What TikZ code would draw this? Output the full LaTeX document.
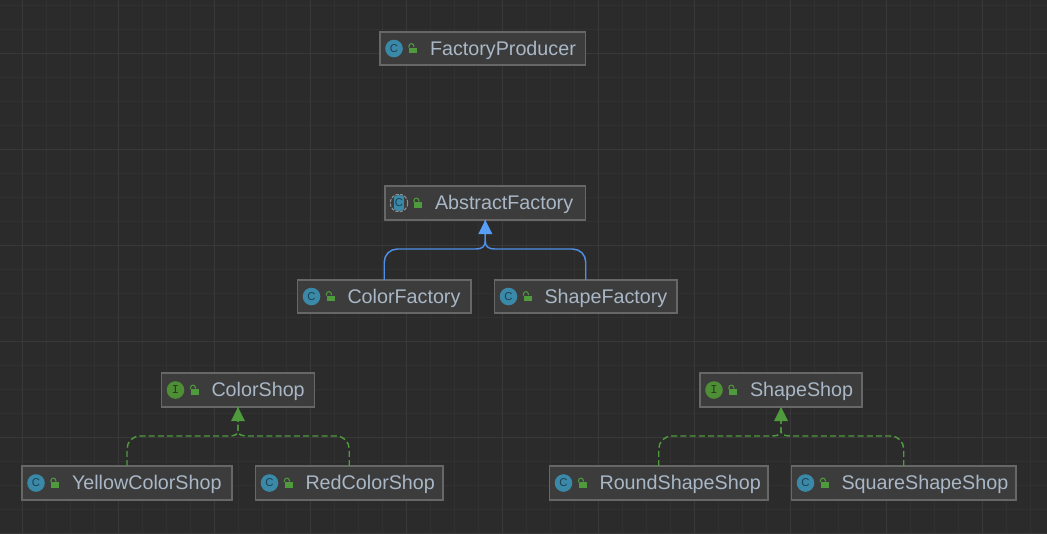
\documentclass[tikz,border=0pt]{standalone}
\usepackage{fontspec}
\setmainfont{Liberation Sans}
\newfontfamily\iconmono{Liberation Mono}
\usetikzlibrary{arrows.meta,calc}
\definecolor{bgc}{HTML}{2B2B2B}
\definecolor{gridminor}{HTML}{313131}
\definecolor{gridmajor}{HTML}{393939}
\definecolor{boxfill}{HTML}{3C3C3C}
\definecolor{boxline}{HTML}{676767}
\definecolor{labelc}{HTML}{A9B7C6}
\definecolor{teal}{HTML}{3A89A8}
\definecolor{tealdark}{HTML}{1E3F50}
\definecolor{ringgrey}{HTML}{8E8E8E}
\definecolor{ifgreen}{HTML}{4E8F35}
\definecolor{ifdark}{HTML}{263A1E}
\definecolor{lockgreen}{HTML}{4F9A3C}
\definecolor{extblue}{HTML}{4F8FE6}
\definecolor{headblue}{HTML}{589DF6}
\definecolor{impgreen}{HTML}{4F9A3C}
\tikzset{
  umlbox/.style={draw=boxline,fill=boxfill,line width=1pt,inner sep=0pt,outer sep=0pt,
    font=\fontsize{14.8pt}{16pt}\selectfont,text=labelc,align=left,text height=12.8pt,text depth=3pt},
  iconc/.style={circle,inner sep=0pt,outer sep=0pt,minimum size=13.2pt,
    font=\fontsize{8.5pt}{8.5pt}\selectfont},
  extendline/.style={draw=extblue,line width=1.1pt},
  implline/.style={draw=impgreen,line width=1.1pt,dash pattern=on 4.5pt off 2.4pt},
  headtip/.style={line width=0pt,-{Triangle[length=10.5pt,width=10.5pt]}},
}
\newcommand{\umlnode}[7]{%
  \pgfmathsetmacro{\ww}{(#4-#2)*0.75}%
  \pgfmathsetmacro{\hh}{(#5-#3)*0.75}%
  \node[umlbox,text width=\ww pt,minimum height=\hh pt] (#1) at ({(#2+#4)/2},{(#3+#5)/2}) {\hspace*{37.5pt}#7\hfill};
  \pgfmathsetmacro{\cy}{(#3+#5)/2}%
  \ifx c#6
    \node[iconc,fill=teal,text=tealdark] (#1-icon) at ({#2+14},\cy) {C};
  \else\ifx a#6
    \node[iconc,draw=ringgrey,line width=.8pt,dash pattern=on 2.5pt off 1pt] (#1-icon) at ({#2+14},\cy) {};
    \begin{scope}
      \clip ({#2+14},\cy) circle[radius=8];
      \fill[teal] ({#2+9},\cy-9) rectangle ({#2+19},\cy+9);
    \end{scope}
    \node[iconc,text=tealdark] (#1-letter) at ({#2+14},\cy) {C};
  \else
    \node[iconc,fill=ifgreen,text=ifdark,font=\fontsize{9pt}{9pt}\iconmono] (#1-icon) at ({#2+14},\cy) {I};
  \fi\fi
  \fill[lockgreen] ({#2+29},\cy-1) rectangle ({#2+37},\cy+4.7);
  \draw[lockgreen,line width=.8pt] ({#2+29},\cy-1) -- ({#2+29},\cy-2.5) arc[start angle=180,end angle=0,x radius=2.4,y radius=-2.4] -- ({#2+33.8},\cy-1.5);
}
% #1 style, #2 child, #3 parent, #4 rise of the junction
\newcommand{\branch}[4]{%
  \coordinate (bend) at ($(#3.south)+(0,29)$);
  \coordinate (side) at (bend -| #2.north);
  \coordinate (up) at ($(bend)+(0,-#4)$);
  \coordinate (nearb) at ($(bend)!7pt!(side)$);
  \coordinate (cornA) at ($(side)+(0,13)$);
  \coordinate (cornB) at ($(side)!9.75pt!(bend)$);
  \path[#1] (#2.north) -- (cornA)
    .. controls ($(cornA)!.55!(side)$) and ($(cornB)!.55!(side)$) .. (cornB)
    -- (nearb)
    .. controls ($(nearb)!.67!(bend)$) and ($(up)!.67!(bend)$) .. (up) -- (#3.south);
}
\begin{document}
\begin{tikzpicture}[x=0.75pt,y=-0.75pt]
\useasboundingbox (0,0) rectangle (1047,533);
\fill[bgc] (0,0) rectangle (1047,533);
\foreach \k in {0,...,44} \draw[gridminor,line width=.75pt] ({-1.5+24*\k},0) -- ({-1.5+24*\k},533);
\foreach \k in {0,...,22} \draw[gridminor,line width=.75pt] (0,{5+24*\k}) -- (1047,{5+24*\k});
\foreach \k in {0,...,11} \draw[gridmajor,line width=.75pt] ({22.5+96*\k},0) -- ({22.5+96*\k},533);
\foreach \k in {0,...,5} \draw[gridmajor,line width=.75pt] (0,{53+96*\k}) -- (1047,{53+96*\k});

\umlnode{fp}{380}{32}{585.5}{65}{c}{FactoryProducer}
\umlnode{af}{385}{186}{585.5}{220}{a}{AbstractFactory}
\umlnode{cf}{297.5}{280}{471}{313}{c}{ColorFactory}
\umlnode{sf}{494.5}{280}{677}{313}{c}{ShapeFactory}
\umlnode{cs}{161.5}{373}{314.5}{407}{i}{ColorShop}
\umlnode{ycs}{22}{466}{232}{500}{c}{YellowColorShop}
\umlnode{rcs}{255.5}{466}{443}{500}{c}{RedColorShop}
\umlnode{ss}{700}{373}{862}{407}{i}{ShapeShop}
\umlnode{rss}{549.5}{466}{768}{500}{c}{RoundShapeShop}
\umlnode{sss}{791.5}{466}{1016}{500}{c}{SquareShapeShop}

\branch{extendline}{cf}{af}{8}
\branch{extendline}{sf}{af}{8}
\path[headtip,draw=headblue,fill=headblue] ($(af.south)+(0,14)$) -- (af.south);
\branch{implline}{ycs}{cs}{5}
\branch{implline}{rcs}{cs}{5}
\path[headtip,draw=impgreen,fill=impgreen] ($(cs.south)+(0,14)$) -- (cs.south);
\branch{implline}{rss}{ss}{5}
\branch{implline}{sss}{ss}{5}
\path[headtip,draw=impgreen,fill=impgreen] ($(ss.south)+(0,14)$) -- (ss.south);
\end{tikzpicture}
\end{document}
